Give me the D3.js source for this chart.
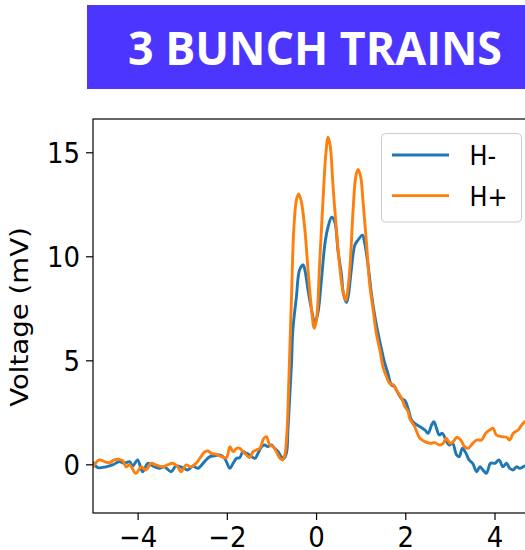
<!DOCTYPE html>
<html>
<head>
<meta charset="utf-8">
<script src="https://cdn.jsdelivr.net/npm/d3@7/dist/d3.min.js"></script>
<style>
  html, body { margin: 0; padding: 0; background: #fff; overflow: hidden; }
  svg { display: block; }
</style>
</head>
<body>
<svg id="chart" width="525" height="550"></svg>
<script>
// ---- data ----
const titleText = "3 BUNCH TRAINS";
const seriesNames = ["H-", "H+"];
const seriesColors = ["#1f77b4", "#ff7f0e"];
const xTicks = [-4, -2, 0, 2, 4];
const yTicks = [0, 5, 10, 15];
const yLabel = "Voltage (mV)";

// H- trace: time (ns) and voltage (mV)
const hMinusX = [-5.00,-4.89,-4.71,-4.56,-4.41,-4.30,-4.18,-4.11,-4.00,-3.89,-3.77,-3.66,-3.51,-3.40,-3.25,-3.14,-2.99,-2.88,-2.76,-2.65,
  -2.50,-2.38,-2.27,-2.16,-2.05,-1.93,-1.86,-1.78,-1.71,-1.64,-1.56,-1.49,-1.37,-1.30,-1.22,-1.15,-1.08,-1.00,-0.93,-0.85,
  -0.78,-0.72,-0.66,-0.63,-0.59,-0.55,-0.52,-0.44,-0.37,-0.29,-0.25,-0.18,-0.10,-0.03,0.04,0.12,0.20,0.27,0.35,0.42,
  0.49,0.57,0.61,0.68,0.72,0.79,0.87,0.94,1.04,1.09,1.17,1.24,1.32,1.39,1.47,1.54,1.61,1.69,1.76,1.84,
  1.91,1.99,2.06,2.14,2.21,2.33,2.44,2.51,2.59,2.64,2.70,2.76,2.83,2.91,2.98,3.06,3.15,3.21,3.28,3.36,
  3.43,3.51,3.60,3.67,3.74,3.82,3.91,4.01,4.10,4.19,4.27,4.34,4.42,4.49,4.57,4.68,4.79,4.93];
const hMinusV = [0.08,-0.16,-0.12,-0.03,0.13,0.05,0.13,-0.08,0.21,-0.36,0.05,-0.08,-0.19,-0.12,-0.36,-0.08,-0.16,-0.27,-0.08,-0.19,
  0.13,0.37,0.41,0.45,0.29,-0.19,0.05,0.29,0.32,0.61,0.53,0.45,0.29,0.53,0.85,0.93,0.85,0.93,0.77,0.61,
  0.37,0.29,0.59,1.65,3.25,4.86,6.46,8.06,9.34,9.58,9.34,8.38,7.42,6.81,7.26,8.86,10.63,11.42,11.88,11.65,
  10.30,9.10,8.24,7.78,8.06,9.34,10.54,10.78,11.02,10.63,9.50,8.22,7.10,6.30,5.50,4.86,4.38,3.81,3.73,3.41,
  3.17,3.07,2.71,2.13,1.97,1.81,1.65,1.49,1.89,2.05,1.73,1.41,1.49,1.17,0.93,1.01,0.45,0.37,0.77,0.53,
  0.21,0.05,-0.36,-0.12,-0.27,-0.43,0.05,0.05,0.21,-0.12,0.05,-0.19,-0.27,-0.12,-0.19,-0.08,-0.13,-0.08];

// H+ trace: time (ns) and voltage (mV)
const hPlusX = [-5.00,-4.86,-4.74,-4.63,-4.52,-4.41,-4.33,-4.26,-4.18,-4.04,-3.92,-3.81,-3.70,-3.59,-3.44,-3.33,-3.21,-3.10,-3.03,-2.91,
  -2.80,-2.69,-2.58,-2.50,-2.42,-2.35,-2.23,-2.12,-2.01,-1.93,-1.86,-1.78,-1.71,-1.64,-1.56,-1.49,-1.41,-1.34,-1.26,-1.17,
  -1.11,-1.04,-0.96,-0.89,-0.81,-0.75,-0.70,-0.65,-0.61,-0.55,-0.50,-0.44,-0.39,-0.33,-0.25,-0.18,-0.10,-0.04,0.01,0.08,
  0.16,0.22,0.27,0.32,0.38,0.46,0.53,0.61,0.67,0.72,0.77,0.83,0.89,0.94,1.00,1.05,1.13,1.20,1.28,1.35,
  1.43,1.50,1.58,1.65,1.74,1.80,1.88,1.95,1.99,2.06,2.10,2.21,2.33,2.44,2.55,2.66,2.77,2.85,2.92,3.00,
  3.07,3.16,3.24,3.33,3.41,3.48,3.60,3.71,3.80,3.89,3.97,4.04,4.16,4.27,4.34,4.42,4.53,4.61,4.68,4.79,4.93];
const hPlusV = [-0.12,0.21,0.13,0.08,0.21,0.24,0.17,-0.12,-0.03,-0.43,-0.12,-0.27,0.05,-0.03,-0.12,-0.03,0.05,-0.12,-0.36,-0.03,
  -0.12,0.05,0.37,0.59,0.64,0.53,0.48,0.37,0.32,0.85,0.61,0.77,0.77,0.61,0.45,0.32,0.61,0.69,0.77,1.25,
  1.33,0.93,0.85,0.61,0.29,0.21,0.45,1.65,4.05,8.06,11.26,12.71,13.00,12.63,11.26,9.34,7.42,6.54,6.94,9.66,
  12.87,14.95,15.72,15.27,13.38,11.18,9.50,8.24,7.88,8.54,9.82,12.23,13.83,14.18,13.83,12.71,10.63,8.70,7.42,6.30,
  5.50,4.69,4.21,3.89,3.81,3.57,3.31,3.01,2.77,2.56,2.21,1.81,1.25,1.09,1.01,1.04,0.93,1.01,1.25,1.01,
  1.09,1.30,1.17,0.85,0.77,0.93,1.17,1.17,1.49,1.65,1.73,1.41,1.33,1.30,1.17,1.49,1.65,1.89,2.05,2.13,2.03];

// ---- layout ----
const W = 525, H = 550;
const plot = { left: 93, right: 536, top: 119, bottom: 513 };
const SY = 1.1;             // vertical stretch applied to the tick text
const FONT = "'DejaVu Sans', sans-serif";
const FS = 26;

const svg = d3.select("#chart");

// title banner
svg.append("rect")
  .attr("x", 87).attr("y", 5).attr("width", W - 87 + 5).attr("height", 84)
  .attr("fill", "#4b35ff");
svg.append("text")
  .attr("transform", "translate(128,65) scale(1,1.18)")
  .attr("font-family", "'Open Sans', sans-serif")
  .attr("font-weight", 700)
  .attr("font-size", 39)
  .attr("fill", "#fff")
  .attr("textLength", 374)
  .attr("lengthAdjust", "spacingAndGlyphs")
  .text(titleText);

// scales
const x = d3.scaleLinear().domain([-5, 4.93]).range([plot.left, plot.right]);
const y = d3.scaleLinear().domain([-2.34, 16.6]).range([plot.bottom, plot.top]);

// clip for traces
svg.append("defs").append("clipPath").attr("id", "plotClip")
  .append("rect")
  .attr("x", plot.left).attr("y", plot.top)
  .attr("width", plot.right - plot.left).attr("height", plot.bottom - plot.top);

const line = d3.line()
  .x(d => x(d[0]))
  .y(d => y(d[1]))
  .curve(d3.curveCatmullRom.alpha(0.5));

const series = [
  { name: seriesNames[0], color: seriesColors[0], pts: d3.zip(hMinusX, hMinusV) },
  { name: seriesNames[1], color: seriesColors[1], pts: d3.zip(hPlusX, hPlusV) }
];

const traces = svg.append("g").attr("clip-path", "url(#plotClip)");
series.forEach(s => {
  traces.append("path")
    .datum(s.pts)
    .attr("fill", "none")
    .attr("stroke", s.color)
    .attr("stroke-width", 2.9)
    .attr("stroke-linejoin", "round")
    .attr("stroke-linecap", "round")
    .attr("d", line);
});

// axes
const fmt = d => (d < 0 ? "\u2212" + Math.abs(d) : String(d));

const xAxis = svg.append("g")
  .attr("transform", `translate(0,${plot.bottom})`)
  .call(d3.axisBottom(x).tickValues(xTicks).tickFormat(fmt).tickSize(7).tickSizeOuter(0));
xAxis.select(".domain").remove();
xAxis.selectAll(".tick line").attr("stroke", "#000").attr("stroke-width", 1.2);
xAxis.selectAll(".tick text")
  .attr("font-family", FONT).attr("font-size", FS).attr("fill", "#000")
  .attr("dy", null)
  .attr("y", 34 / SY)
  .attr("transform", `scale(1,${SY})`);

const yAxis = svg.append("g")
  .attr("transform", `translate(${plot.left},0)`)
  .call(d3.axisLeft(y).tickValues(yTicks).tickFormat(fmt).tickSize(7).tickSizeOuter(0));
yAxis.select(".domain").remove();
yAxis.selectAll(".tick line").attr("stroke", "#000").attr("stroke-width", 1.2);
yAxis.selectAll(".tick text")
  .attr("font-family", FONT).attr("font-size", FS).attr("fill", "#000")
  .attr("x", -13)
  .attr("dy", "0.364em")
  .attr("transform", `scale(1,${SY})`);

// axes frame
svg.append("rect")
  .attr("x", plot.left).attr("y", plot.top)
  .attr("width", plot.right - plot.left).attr("height", plot.bottom - plot.top)
  .attr("fill", "none").attr("stroke", "#000").attr("stroke-width", 1.2);

// y label
svg.append("text")
  .attr("transform", "translate(28,317) rotate(-90) scale(1.15,1)")
  .attr("text-anchor", "middle")
  .attr("font-family", FONT).attr("font-size", 24).attr("fill", "#000")
  .text(yLabel);

// legend
const lg = svg.append("g");
lg.append("rect")
  .attr("x", 381.5).attr("y", 133.5).attr("width", 140).attr("height", 88.5)
  .attr("rx", 4).attr("ry", 4)
  .attr("fill", "#fff").attr("fill-opacity", 0.8)
  .attr("stroke", "#cccccc").attr("stroke-width", 1);
series.forEach((s, i) => {
  const ly = 155 + i * 40.7;
  lg.append("line")
    .attr("x1", 392).attr("x2", 449)
    .attr("y1", ly).attr("y2", ly)
    .attr("stroke", s.color).attr("stroke-width", 2.8);
  lg.append("text")
    .attr("transform", `translate(469.5,${ly + 10}) scale(1,1.08)`)
    .attr("font-family", FONT).attr("font-size", 24).attr("fill", "#000")
    .text(s.name);
});
</script>
</body>
</html>
